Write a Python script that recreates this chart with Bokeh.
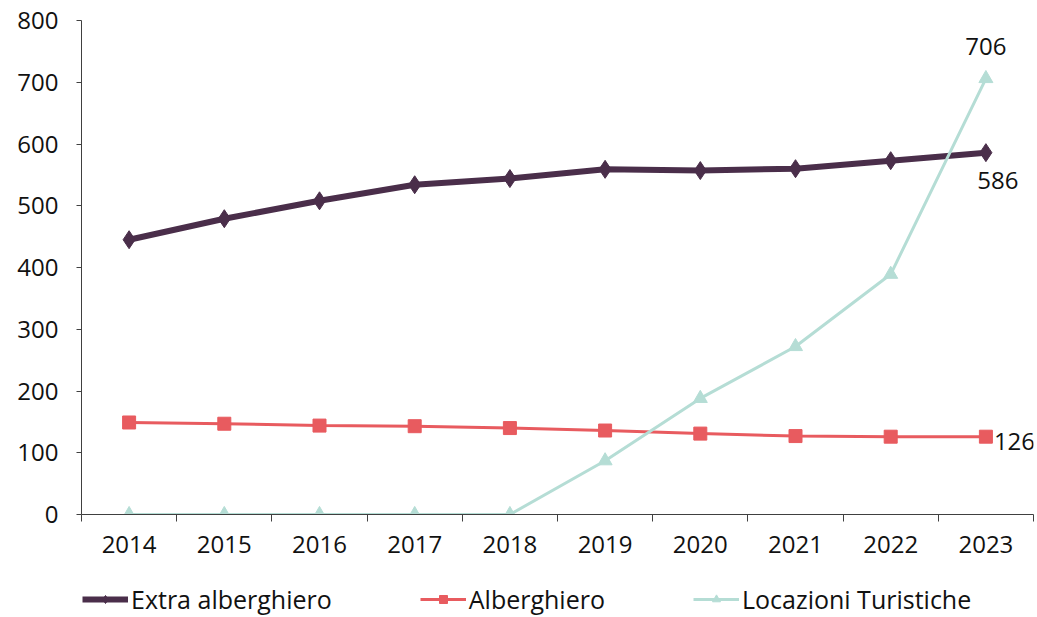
from bokeh.plotting import figure
from bokeh.layouts import column
from bokeh.models import FixedTicker, Legend, LegendItem, Range1d, Label
from bokeh.embed import file_html
from bokeh.resources import INLINE

years = ["2014", "2015", "2016", "2017", "2018", "2019", "2020", "2021", "2022", "2023"]
extra_alberghiero = [445, 479, 508, 534, 544, 559, 557, 560, 573, 586]
alberghiero = [149, 147, 144, 143, 140, 136, 131, 127, 126, 126]
locazioni = [0, 0, 0, 0, 0, 87, 188, 272, 389, 706]
series_names = ["Extra alberghiero", "Alberghiero", "Locazioni Turistiche"]
y_ticks = [0, 100, 200, 300, 400, 500, 600, 700, 800]

FONT = "Open Sans"
FS = "24px"
TXT = "#111111"
C_EXTRA = "#4a2e4a"
C_ALB = "#e85b5f"
C_LOC = "#b5ddd5"
C_AXIS = "#404040"

xs = list(range(len(years)))

p = figure(width=1035, height=568, output_backend="svg", toolbar_location=None,
           x_range=Range1d(-0.5, len(years) - 0.5), y_range=Range1d(0, 800),
           min_border_left=81, min_border_right=2, min_border_top=20, min_border_bottom=54)
p.outline_line_color = None
p.xgrid.grid_line_color = None
p.ygrid.grid_line_color = None
p.background_fill_color = "white"
p.border_fill_color = "white"

# x axis: labels at category centres, ticks at boundaries
p.xaxis.ticker = FixedTicker(ticks=xs, minor_ticks=[x - 0.5 for x in xs] + [len(xs) - 0.5])
p.xaxis.major_label_overrides = {i: y for i, y in enumerate(years)}
p.xaxis.major_tick_line_color = None
p.xaxis.major_tick_out = 0
p.xaxis.major_tick_in = 0
p.xaxis.minor_tick_out = 7
p.xaxis.minor_tick_in = 0
p.xaxis.minor_tick_line_color = C_AXIS
p.xaxis.axis_line_color = C_AXIS
p.xaxis.major_label_standoff = 14
p.xaxis.major_label_text_font = FONT
p.xaxis.major_label_text_font_size = FS
p.xaxis.major_label_text_color = TXT

p.yaxis.ticker = FixedTicker(ticks=y_ticks)
p.yaxis.minor_tick_line_color = None
p.yaxis.major_tick_out = 5
p.yaxis.major_tick_in = 0
p.yaxis.major_tick_line_color = C_AXIS
p.yaxis.axis_line_color = C_AXIS
p.yaxis.major_label_standoff = 18
p.yaxis.major_label_text_font = FONT
p.yaxis.major_label_text_font_size = FS
p.yaxis.major_label_text_color = TXT

p.line(xs, extra_alberghiero, line_color=C_EXTRA, line_width=6)
p.scatter(xs, extra_alberghiero, marker="diamond", size=18, fill_color=C_EXTRA, line_color=C_EXTRA)
p.line(xs, alberghiero, line_color=C_ALB, line_width=3)
p.scatter(xs, alberghiero, marker="square", size=13, fill_color=C_ALB, line_color=C_ALB)
p.line(xs, locazioni, line_color=C_LOC, line_width=3)
p.scatter(xs, locazioni, marker="triangle", size=14, fill_color=C_LOC, line_color=C_LOC)

# data labels on the last year
last = len(years) - 1
p.add_layout(Label(x=last, y=locazioni[last], text=str(locazioni[last]), x_offset=0, y_offset=24,
                   text_align="center", text_baseline="bottom", text_font=FONT,
                   text_font_size=FS, text_color=TXT))
p.add_layout(Label(x=last, y=extra_alberghiero[last], text=str(extra_alberghiero[last]), x_offset=12, y_offset=-19,
                   text_align="center", text_baseline="top", text_font=FONT,
                   text_font_size=FS, text_color=TXT))
p.add_layout(Label(x=last, y=alberghiero[last], text=str(alberghiero[last]), x_offset=8, y_offset=-5,
                   text_align="left", text_baseline="middle", text_font=FONT,
                   text_font_size=FS, text_color=TXT))

# legend strip below the chart (its renderers sit outside its visible range)
lg = figure(width=1035, height=48, output_backend="svg", toolbar_location=None,
            x_range=Range1d(-0.5, len(years) - 0.5), y_range=Range1d(-2000, -1000), min_border=0)
lg.axis.visible = False
lg.grid.visible = False
lg.outline_line_color = None
lg.border_fill_color = "white"
l1 = lg.line(xs, extra_alberghiero, line_color=C_EXTRA, line_width=6)
m1 = lg.scatter(xs, extra_alberghiero, marker="diamond", size=18, fill_color=C_EXTRA, line_color=C_EXTRA)
l2 = lg.line(xs, alberghiero, line_color=C_ALB, line_width=3)
m2 = lg.scatter(xs, alberghiero, marker="square", size=13, fill_color=C_ALB, line_color=C_ALB)
l3 = lg.line(xs, locazioni, line_color=C_LOC, line_width=3)
m3 = lg.scatter(xs, locazioni, marker="triangle", size=14, fill_color=C_LOC, line_color=C_LOC)

legend = Legend(items=[
    LegendItem(label=series_names[0], renderers=[l1, m1]),
    LegendItem(label=series_names[1], renderers=[l2, m2]),
    LegendItem(label=series_names[2], renderers=[l3, m3]),
], orientation="horizontal", location=(1, 0), spacing=88, glyph_width=46, glyph_height=20,
    label_standoff=3, padding=0, margin=0, border_line_color=None, background_fill_alpha=0,
    label_text_font=FONT, label_text_font_size="25px", label_text_color=TXT)
lg.add_layout(legend, "center")

layout = column(p, lg, spacing=0)
open("out.html", "w").write(file_html(layout, INLINE))
